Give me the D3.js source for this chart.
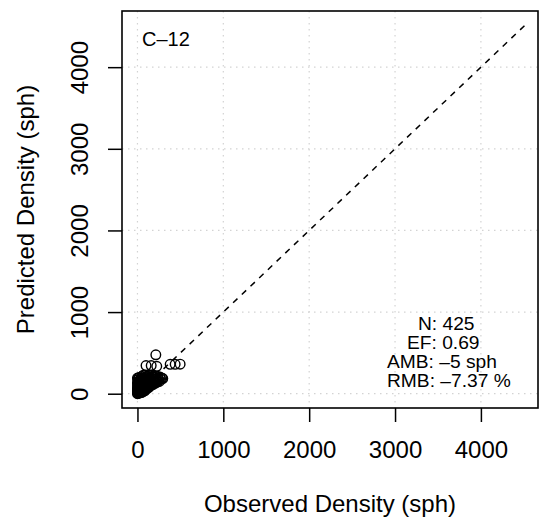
<!DOCTYPE html>
<html>
<head>
<meta charset="utf-8">
<script src="https://cdn.jsdelivr.net/npm/d3@7"></script>
<style>
  body { margin: 0; background: #fff; }
  svg text { font-family: "Liberation Sans", Arial, Helvetica, sans-serif; fill: #000; }
</style>
</head>
<body>
<svg id="chart"></svg>
<script>
// Observed vs predicted density (sph), panel C-12
const observed = [
  0, 3, 8, 0, 12, 20, 5, 18, 28, 0, 10, 25, 38, 45, 2, 15, 30, 48, 55, 62,
  0, 8, 22, 35, 50, 65, 75, 85, 3, 12, 28, 40, 55, 70, 88, 95, 105, 20, 40, 48,
  60, 66, 78, 85, 95, 100, 110, 120, 130, 105, 115, 125, 135, 145, 155, 140, 150, 160, 170, 180,
  165, 180, 190, 200, 210, 195, 215, 225, 235, 240, 250, 264, 270, 285, 295, 230, 205, 90, 130, 170,
  0, 5, 32, 60, 42, 75, 110, 140, 15, 25, 10, 0, 6, 52, 115, 160, 200, 255, 70, 100,
  100, 160, 225, 381, 439, 497, 214
];
const predicted = [
  0, 12, 4, 30, 22, 8, 48, 40, 18, 65, 80, 60, 35, 15, 100, 110, 90, 70, 40, 22,
  130, 150, 135, 115, 100, 80, 50, 35, 170, 190, 165, 150, 130, 110, 90, 65, 55, 200, 185, 210,
  175, 225, 160, 200, 140, 115, 95, 80, 75, 180, 215, 160, 130, 110, 100, 195, 170, 140, 125, 112,
  210, 180, 155, 135, 130, 205, 185, 160, 145, 195, 170, 204, 180, 190, 185, 215, 220, 225, 225, 228,
  192, 85, 75, 55, 130, 135, 140, 150, 60, 25, 15, 45, 110, 160, 120, 190, 170, 150, 195, 200,
  345, 345, 335, 360, 360, 362, 477
];
const tickValues = [0, 1000, 2000, 3000, 4000];
const oneToOne = [0, 4515];
const panelLabel = "C\u201312";
const statLines = ["N: 425", "EF: 0.69", "AMB: \u20135 sph", "RMB: \u20137.37 %"];

const W = 548, H = 518;
const margin = { top: 11, right: 10, bottom: 110, left: 122 };
const width = W - margin.left - margin.right,
      height = H - margin.top - margin.bottom;
const fs = "24px";

const svg = d3.select("#chart").attr("width", W).attr("height", H);
const g = svg.append("g").attr("transform", `translate(${margin.left},${margin.top})`);

const x = d3.scaleLinear().domain([-180, 4665]).range([0, width]);
const y = d3.scaleLinear().domain([-175, 4688]).range([height, 0]);

// dotted grid
g.append("g").selectAll("line").data(tickValues).enter().append("line")
  .attr("x1", d => x(d)).attr("x2", d => x(d)).attr("y1", 0).attr("y2", height)
  .attr("stroke", "#d3d3d3").attr("stroke-width", 1.2).attr("stroke-dasharray", "1.5,4.5");
g.append("g").selectAll("line").data(tickValues).enter().append("line")
  .attr("y1", d => y(d)).attr("y2", d => y(d)).attr("x1", 0).attr("x2", width)
  .attr("stroke", "#d3d3d3").attr("stroke-width", 1.2).attr("stroke-dasharray", "1.5,4.5");

// 1:1 line
g.append("line")
  .attr("x1", x(oneToOne[0])).attr("y1", y(oneToOne[0]))
  .attr("x2", x(oneToOne[1])).attr("y2", y(oneToOne[1]))
  .attr("stroke", "#000").attr("stroke-width", 1.5).attr("stroke-dasharray", "6,6");

// points
const pts = observed.map((o, i) => ({ o, p: predicted[i] }));
g.selectAll("circle").data(pts).enter().append("circle")
  .attr("cx", d => x(d.o)).attr("cy", d => y(d.p)).attr("r", 4.8)
  .attr("fill", "none").attr("stroke", "#000").attr("stroke-width", 1.4);

// axes
const xAxis = g.append("g").attr("transform", `translate(0,${height})`)
  .call(d3.axisBottom(x).tickValues(tickValues).tickSize(14).tickFormat(d3.format("d")));
xAxis.select(".domain").remove();
xAxis.selectAll("line").attr("stroke", "#000").attr("stroke-width", 1.5);
xAxis.selectAll("text").attr("y", 50).attr("dy", null).style("font-size", fs);

const yAxis = g.append("g")
  .call(d3.axisLeft(y).tickValues(tickValues).tickSize(14).tickFormat(d3.format("d")));
yAxis.select(".domain").remove();
yAxis.selectAll("line").attr("stroke", "#000").attr("stroke-width", 1.5);
yAxis.selectAll("text").attr("x", null).attr("dy", null)
  .attr("transform", "translate(-34,0) rotate(-90)")
  .attr("text-anchor", "middle")
  .style("font-size", fs);

// box
g.append("rect").attr("width", width).attr("height", height)
  .attr("fill", "none").attr("stroke", "#000").attr("stroke-width", 1.6);

// axis titles
svg.append("text").attr("x", margin.left + width / 2).attr("y", 512)
  .attr("text-anchor", "middle").style("font-size", fs)
  .text("Observed Density (sph)");
svg.append("text").attr("transform", `translate(34,${margin.top + height / 2}) rotate(-90)`)
  .attr("text-anchor", "middle").style("font-size", fs)
  .text("Predicted Density (sph)");

// panel label
g.append("text").attr("x", 20).attr("y", 35).style("font-size", "20px").text(panelLabel);

// stats block
const statX = [296, 285, 265, 265];
const statY = [319, 338, 357, 376];
g.selectAll("text.stat").data(statLines).enter().append("text")
  .attr("class", "stat")
  .attr("x", (d, i) => statX[i]).attr("y", (d, i) => statY[i])
  .style("font-size", "19.2px").text(d => d);
</script>
</body>
</html>
